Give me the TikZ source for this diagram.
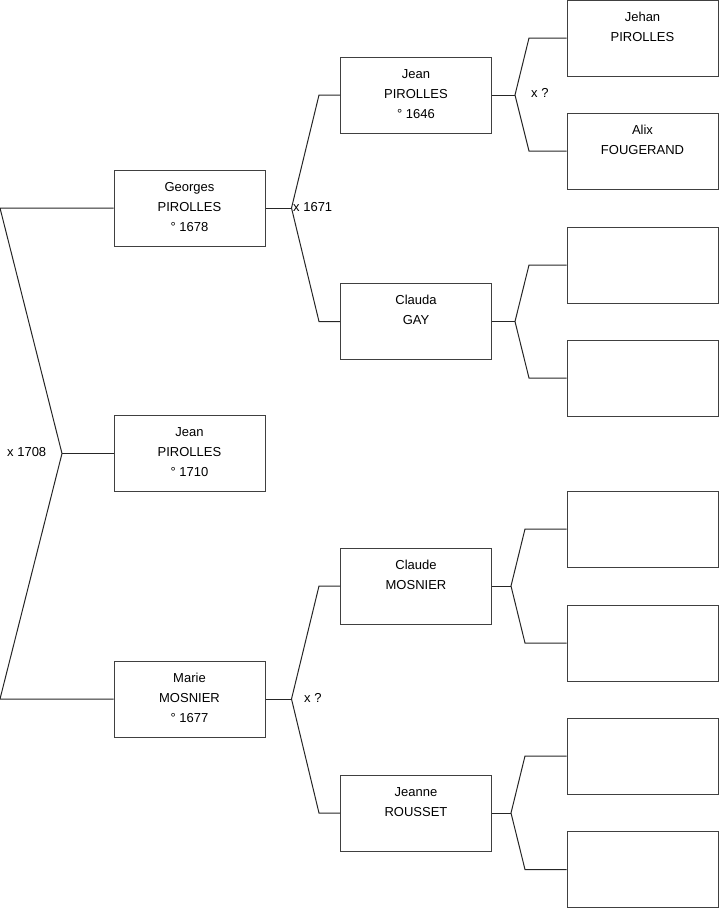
\documentclass[tikz,border=0pt]{standalone}
\usepackage{fontspec}
\setmainfont{Liberation Sans}
\begin{document}
\begin{tikzpicture}[x=1pt,y=-1pt,
  pbox/.style={draw=black!75, line width=1pt, minimum width=151pt, minimum height=76pt, inner sep=0pt},
  ptxt/.style={anchor=north, align=center, inner sep=0pt, font=\fontsize{13}{20}\selectfont},
  lbl/.style={anchor=west, inner sep=0pt, font=\fontsize{13}{20}\selectfont},
  conn/.style={draw=black!85, line width=1pt}]
\useasboundingbox (0,0) rectangle (719,908);
% column 1
\node[pbox] (g) at (189.5,208) {};
\node[pbox] (j) at (189.5,453.5) {};
\node[pbox] (m) at (189.5,699) {};
% column 2
\node[pbox] (jp) at (416,95) {};
\node[pbox] (cg) at (416,321.5) {};
\node[pbox] (cm) at (416,586) {};
\node[pbox] (jr) at (416,813) {};
% column 3
\node[pbox] (a1) at (642.5,38) {};
\node[pbox] (a2) at (642.5,151) {};
\node[pbox] (a3) at (642.5,265) {};
\node[pbox] (a4) at (642.5,378) {};
\node[pbox] (a5) at (642.5,529) {};
\node[pbox] (a6) at (642.5,643) {};
\node[pbox] (a7) at (642.5,756) {};
\node[pbox] (a8) at (642.5,869.5) {};
% texts
\node[ptxt] (gt) at ([yshift=-7.5pt]g.north) {\strut Georges\\PIROLLES\\° 1678};
\node[ptxt] (jt) at ([yshift=-7.5pt]j.north) {\strut Jean\\PIROLLES\\° 1710};
\node[ptxt] (mt) at ([yshift=-7.5pt]m.north) {\strut Marie\\MOSNIER\\° 1677};
\node[ptxt] (jpt) at ([yshift=-7.5pt]jp.north) {\strut Jean\\PIROLLES\\° 1646};
\node[ptxt] (cgt) at ([yshift=-7.5pt]cg.north) {\strut Clauda\\GAY};
\node[ptxt] (cmt) at ([yshift=-7.5pt]cm.north) {\strut Claude\\MOSNIER};
\node[ptxt] (jrt) at ([yshift=-7.5pt]jr.north) {\strut Jeanne\\ROUSSET};
\node[ptxt] (a1t) at ([yshift=-7.5pt]a1.north) {\strut Jehan\\PIROLLES};
\node[ptxt] (a2t) at ([yshift=-7.5pt]a2.north) {\strut Alix\\FOUGERAND};
% fork coordinates
\coordinate (r1) at (0,208);
\coordinate (rv) at (62,453.5);
\coordinate (r2) at (0,699);
\coordinate (gv) at (291.5,208);
\coordinate (gu) at (319,95);
\coordinate (gd) at (319,321.5);
\coordinate (mv) at (291.5,699);
\coordinate (mu) at (319,586);
\coordinate (md) at (319,813);
\coordinate (jpv) at (515,95);
\coordinate (jpu) at (529,38);
\coordinate (jpd) at (529,151);
\coordinate (cgv) at (515,321.5);
\coordinate (cgu) at (529,265);
\coordinate (cgd) at (529,378);
\coordinate (cmv) at (511,586);
\coordinate (cmu) at (525,529);
\coordinate (cmd) at (525,643);
\coordinate (jrv) at (511,813);
\coordinate (jru) at (525,756);
\coordinate (jrd) at (525,869.5);
% connectors
\draw[conn] (g.west) -- (r1) -- (rv) -- (r2) -- (m.west);
\draw[conn] (rv) -- (j.west);
\draw[conn] (g.east) -- (gv);
\draw[conn] (jp.west) -- (gu) -- (gv) -- (gd) -- (cg.west);
\draw[conn] (m.east) -- (mv);
\draw[conn] (cm.west) -- (mu) -- (mv) -- (md) -- (jr.west);
\draw[conn] (jp.east) -- (jpv);
\draw[conn] (a1.west) -- (jpu) -- (jpv) -- (jpd) -- (a2.west);
\draw[conn] (cg.east) -- (cgv);
\draw[conn] (a3.west) -- (cgu) -- (cgv) -- (cgd) -- (a4.west);
\draw[conn] (cm.east) -- (cmv);
\draw[conn] (a5.west) -- (cmu) -- (cmv) -- (cmd) -- (a6.west);
\draw[conn] (jr.east) -- (jrv);
\draw[conn] (a7.west) -- (jru) -- (jrv) -- (jrd) -- (a8.west);
% marriage labels
\node[lbl] (l1) at (7,452) {x 1708};
\node[lbl] (l2) at (293,207) {x 1671};
\node[lbl] (l3) at (304,698) {x ?};
\node[lbl] (l4) at (531,93) {x ?};
\end{tikzpicture}
\end{document}
